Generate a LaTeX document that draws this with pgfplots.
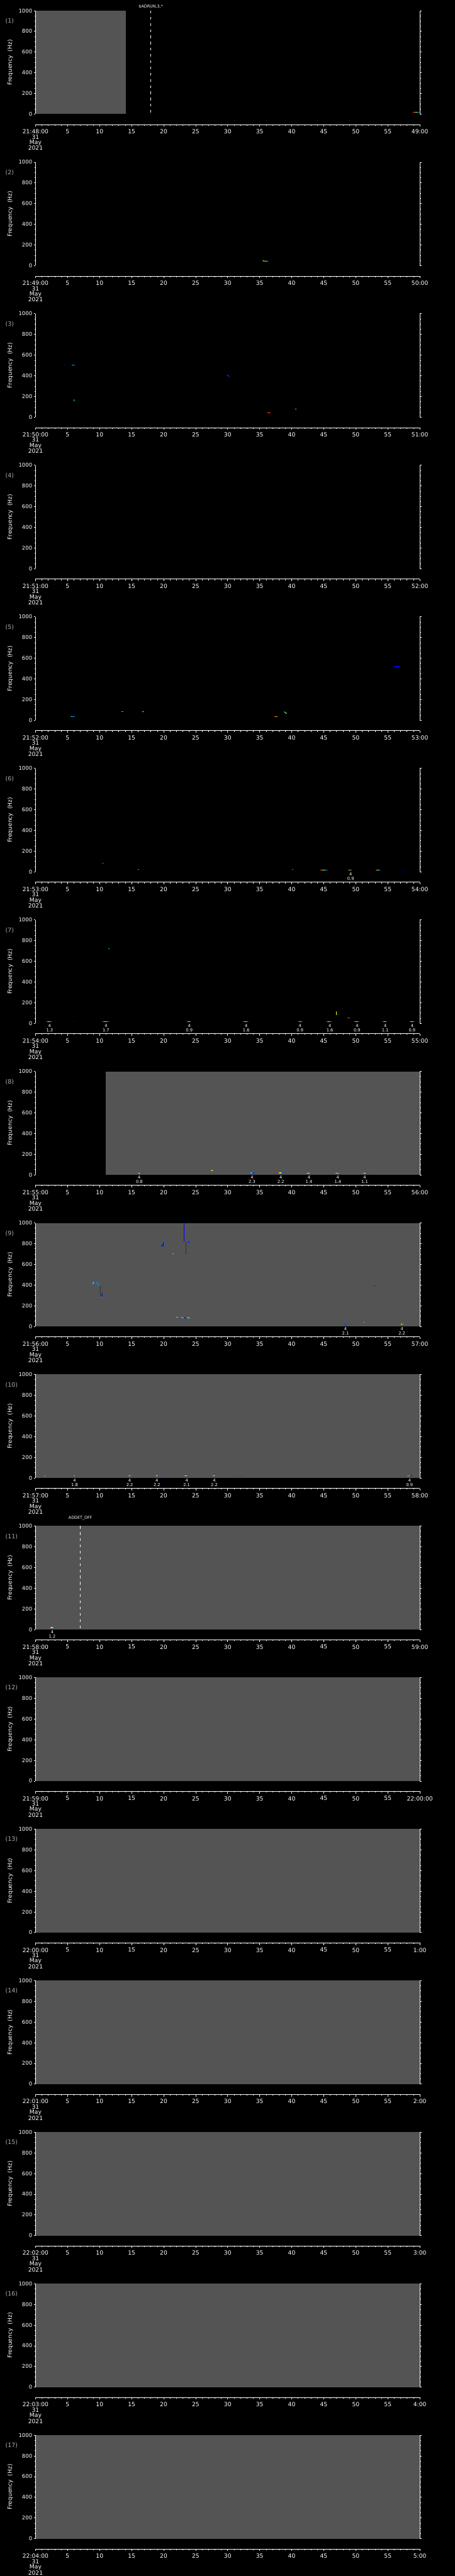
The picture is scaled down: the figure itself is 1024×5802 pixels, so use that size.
\documentclass[border=0pt]{standalone}
\usepackage{pgfplots}
\pgfplotsset{compat=1.18}
\usepackage{fontspec}
\setmainfont{DejaVu Sans}
\definecolor{pgray}{RGB}{84,84,84}
\definecolor{lgray}{RGB}{170,170,170}
\pgfplotsset{
  colormap={traces}{rgb255=(0,0,255) rgb255=(0,255,255) rgb255=(0,255,0) rgb255=(255,255,0) rgb255=(255,0,0)},
  panel/.style={anchor=north west, width=865pt, height=233pt, scale only axis,
    xmin=0, xmax=60, ymin=0, ymax=1000,
    axis x line=none, axis y line=box, xtick=\empty,
    ytick={0,200,400,600,800,1000}, yticklabels={0,200,400,600,800,1000},
    minor y tick num=3, tick align=outside, major tick length=4pt, minor tick length=2pt,
    axis line style={white, line width=1.1pt}, tick style={white, line width=1pt},
    yticklabel style={text=white, font=\fontsize{12}{12}\selectfont},
    ylabel={Frequency\ \ (Hz)},
    every axis y label/.style={at={(rel axis cs:0,0.5)}, xshift=-57pt, rotate=90, anchor=center, text=white, font=\fontsize{13}{13}\selectfont},
    colormap name=traces, point meta min=0, point meta max=1, clip=false, axis on top},
  timeax/.style={anchor=south west, width=865pt, height=1pt, scale only axis,
    xmin=0, xmax=60, ymin=0, ymax=1, axis x line=bottom, axis y line=none, ytick=\empty,
    axis line style={white, line width=1.1pt, -}, xtick={0,5,...,60}, minor x tick num=4,
    tick align=outside, major tick length=4.5pt, minor tick length=2.5pt, tick style={white, line width=1pt},
    xticklabel style={text=white, font=\fontsize{13}{12}\selectfont, align=center, yshift=-3pt}},
  trace/.style={mesh, point meta=explicit, line width=1.6pt, no markers, forget plot},
  bg/.style={fill=pgray, draw=none, forget plot},
  dashline/.style={white, line width=1.3pt, dash pattern=on 6pt off 8pt, forget plot},
}
\tikzset{labsty/.style={anchor=north, yshift=-2.5pt, inner sep=0pt, align=center, text=white, font=\fontsize{9.5}{9.5}\selectfont},
  toplab/.style={anchor=center, inner sep=0pt, text=white, font=\fontsize{9}{9}\selectfont}}
\newcommand{\timeaxis}[3]{\begin{axis}[timeax, at={(80pt,-#1pt)}, xticklabels={{#2\\31\\May\\2021},5,10,15,20,25,30,35,40,45,50,55,#3}]\end{axis}}
\newcommand{\plabel}[1]{\node[anchor=west, text=lgray, inner sep=0pt, font=\fontsize{13.5}{13.5}\selectfont] at (rel axis cs:0,1) [xshift=-68pt, yshift=-23.5pt] {(#1)};}
\newcommand{\lab}[2]{\node[labsty] at (axis cs:#1,0) {4\\#2};}
\newcommand{\rb}[6]{\addplot[trace] coordinates {(#1,#6) [1] (#2,#6) [0.85] (#3,#6) [0.6] (#4,#6) [0.15] (#5,#6) [0]};}
\begin{document}
\begin{tikzpicture}
\useasboundingbox (0,0) rectangle (1024pt,-5802pt);
\fill[black] (0,0) rectangle (1024pt,-5802pt);
% ---------- 1
\begin{axis}[panel, at={(80pt,-24pt)}]
\addplot[bg] coordinates {(0,1000) (14.08,1000)} \closedcycle;
\addplot[dashline] coordinates {(18,1000) (18,0)};
\node[toplab] at (axis cs:18,1000) [yshift=8.5pt] {\$ADRUN,3,*};
\addplot[trace] coordinates {(58.87,20) [1] (59.25,20) [0.85] (59.45,20) [0.6] (59.65,20) [0.3] (59.85,20) [0] (60,20) [0]};
\plabel{1}
\end{axis}
\timeaxis{280.5}{21:48:00}{49:00}
% ---------- 2
\begin{axis}[panel, at={(80pt,-365.3pt)}]
\addplot[trace] coordinates {(35.45,47) [1] (35.7,45) [0.6] (36.0,42) [0.25] (36.3,44) [0.1]};
\plabel{2}
\end{axis}
\timeaxis{621.8}{21:49:00}{50:00}
% ---------- 3
\begin{axis}[panel, at={(80pt,-706.6pt)}]
\addplot[trace] coordinates {(4.55,505) [0] (4.7,505) [0]};
\addplot[trace] coordinates {(5.7,505) [0.1] (6.1,505) [0.2]};
\addplot[trace] coordinates {(6.0,175) [0] (6.0,165) [0.4] (6.05,155) [0.5]};
\addplot[trace] coordinates {(29.9,408) [0.1] (30.1,400) [0.05] (30.3,386) [0]};
\addplot[trace] coordinates {(36.2,47) [0.85] (36.4,44) [1] (36.7,44) [0.9]};
\addplot[trace] coordinates {(40.55,76) [0.25] (40.7,76) [0.25]};
\plabel{3}
\end{axis}
\timeaxis{963.1}{21:50:00}{51:00}
% ---------- 4
\begin{axis}[panel, at={(80pt,-1047.9pt)}]
\plabel{4}
\end{axis}
\timeaxis{1304.4}{21:51:00}{52:00}
% ---------- 5
\begin{axis}[panel, at={(80pt,-1389.2pt)}]
\addplot[trace] coordinates {(5.5,35) [0.6] (5.7,37) [0.3] (6.1,37) [0]};
\addplot[trace] coordinates {(13.4,86) [1] (13.7,86) [0.75]};
\addplot[trace] coordinates {(16.65,82) [0.75] (16.9,85) [0.4]};
\addplot[trace] coordinates {(37.3,37) [1] (37.55,37) [0.75] (37.8,37) [0.9]};
\addplot[trace] coordinates {(38.8,82) [0.3] (39.0,75) [0.5] (39.2,62) [0.75]};
\addplot[trace] coordinates {(56.0,518) [0] (56.8,518) [0]};
\plabel{5}
\end{axis}
\timeaxis{1645.7}{21:52:00}{53:00}
% ---------- 6
\begin{axis}[panel, at={(80pt,-1730.5pt)}]
\addplot[trace] coordinates {(10.45,83) [0.75] (10.6,83) [0.75]};
\addplot[trace] coordinates {(16.0,20) [0.9] (16.15,20) [0.9]};
\addplot[trace] coordinates {(40.0,20) [0.1] (40.2,20) [0.2]};
\rb{44.45}{44.74}{45.03}{45.31}{45.6}{16}
\rb{48.8}{48.95}{49.1}{49.25}{49.4}{16}
\rb{53.1}{53.3}{53.5}{53.7}{53.9}{17}
\addplot[trace] coordinates {(57.25,16) [0] (57.4,16) [0]};
\lab{49.2}{0.9}
\plabel{6}
\end{axis}
\timeaxis{1987}{21:53:00}{54:00}
% ---------- 7
\begin{axis}[panel, at={(80pt,-2071.8pt)}]
\rb{1.7}{1.925}{2.15}{2.375}{2.6}{16}
\addplot[trace] coordinates {(5.95,16) [0] (6.1,16) [0]};
\rb{10.5}{10.75}{11.0}{11.25}{11.5}{16}
\rb{23.6}{23.79}{23.98}{24.16}{24.35}{16}
\rb{32.4}{32.63}{32.85}{33.08}{33.3}{16}
\rb{41.0}{41.18}{41.35}{41.53}{41.7}{16}
\rb{45.4}{45.63}{45.85}{46.08}{46.3}{16}
\rb{49.8}{50.0}{50.2}{50.4}{50.6}{16}
\rb{54.2}{54.38}{54.55}{54.73}{54.9}{16}
\rb{58.45}{58.64}{58.83}{59.01}{59.2}{16}
\addplot[trace] coordinates {(46.95,118) [0] (46.95,110) [0.75] (46.95,82) [0.75]};
\addplot[trace] coordinates {(48.7,50) [1] (49.1,50) [0.9]};
\addplot[trace] coordinates {(11.35,720) [0.2] (11.5,720) [0.2]};
\lab{2.2}{1.3}\lab{11.0}{1.7}\lab{24.0}{0.9}\lab{32.9}{1.6}\lab{41.3}{0.9}
\lab{45.95}{1.6}\lab{50.2}{0.9}\lab{54.6}{1.1}\lab{58.8}{0.9}
\plabel{7}
\end{axis}
\timeaxis{2328.3}{21:54:00}{55:00}
% ---------- 8
\begin{axis}[panel, at={(80pt,-2413.1pt)}]
\addplot[bg] coordinates {(10.94,1000) (60,1000)} \closedcycle;
\rb{15.9}{16.06}{16.23}{16.39}{16.55}{14}
\addplot[trace] coordinates {(27.4,45) [0.75] (27.6,40) [0.7] (27.8,40) [0.6]};
\addplot[trace] coordinates {(33.6,19) [0.3] (33.85,19) [0.1] (34.1,19) [0]};
\rb{37.9}{38.1}{38.3}{38.5}{38.7}{19}
\rb{42.2}{42.43}{42.65}{42.88}{43.1}{14}
\rb{46.7}{46.93}{47.15}{47.38}{47.6}{14}
\rb{51.0}{51.23}{51.45}{51.68}{51.9}{14}
\lab{16.2}{0.8}\lab{33.8}{2.3}\lab{38.3}{2.2}\lab{42.7}{1.4}\lab{47.2}{1.4}\lab{51.4}{1.1}
\plabel{8}
\end{axis}
\timeaxis{2669.6}{21:55:00}{56:00}
% ---------- 9
\begin{axis}[panel, at={(80pt,-2754.4pt)}]
\addplot[bg] coordinates {(0,1000) (60,1000)} \closedcycle;
\addplot[trace] coordinates {(8.95,410) [0.4] (9.1,430) [0.1] (9.55,430) [0.1] (9.7,410) [0.2] (9.95,395) [0.1]};
\addplot[black!80, line width=0.6pt, forget plot] coordinates {(10.05,395) (10.05,285)};
\addplot[trace] coordinates {(10.05,285) [0.3] (10.35,285) [0] (10.4,320) [0]};
\addplot[trace] coordinates {(19.65,785) [0] (19.9,775) [0] (20.0,815) [0] (20.25,815) [0.2]};
\addplot[trace] coordinates {(21.4,700) [0.25] (21.55,700) [0.25]};
\addplot[trace, line width=1.3pt] coordinates {(23.2,1000) [0] (23.2,818) [0]};
\addplot[black!80, line width=0.6pt, forget plot] coordinates {(23.45,818) (23.45,700)};
\addplot[trace] coordinates {(23.4,700) [0] (23.55,700) [0]};
\addplot[trace] coordinates {(23.7,815) [0.1] (24.1,815) [0]};
\addplot[trace] coordinates {(29.1,825) [0.2] (29.3,820) [0]};
\addplot[trace] coordinates {(21.95,90) [0.3] (22.3,90) [0.3]};
\addplot[trace] coordinates {(22.75,86) [0.5] (23.1,84) [0] (23.6,84) [0] (24.1,82) [0.6]};
\addplot[trace] coordinates {(48.2,17) [0] (48.6,17) [0.1]};
\addplot[trace] coordinates {(51.1,38) [1] (51.3,38) [0]};
\addplot[trace] coordinates {(52.85,390) [0] (53.0,390) [0]};
\rb{56.9}{57.06}{57.23}{57.39}{57.55}{22}
\lab{48.4}{2.1}\lab{57.2}{2.2}
\plabel{9}
\end{axis}
\timeaxis{3010.9}{21:56:00}{57:00}
% ---------- 10
\begin{axis}[panel, at={(80pt,-3095.7pt)}]
\addplot[bg] coordinates {(0,1000) (60,1000)} \closedcycle;
\addplot[trace] coordinates {(1.35,23) [0.75] (1.55,23) [0.2] (1.7,23) [0]};
\addplot[trace] coordinates {(5.9,19) [0.6] (6.1,19) [0.2] (6.3,19) [0]};
\rb{14.4}{14.55}{14.7}{14.85}{15.0}{23}
\rb{18.7}{18.85}{19.0}{19.15}{19.3}{23}
\addplot[trace] coordinates {(19.8,15) [0] (20.0,15) [0.2]};
\rb{23.1}{23.3}{23.5}{23.7}{23.9}{23}
\rb{27.6}{27.76}{27.93}{28.09}{28.25}{23}
\addplot[trace] coordinates {(31.9,23) [0] (32.0,23) [0]};
\addplot[trace] coordinates {(58.0,19) [0.6] (58.3,19) [0.4] (58.5,19) [0] (58.8,19) [0]};
\lab{6.1}{1.8}\lab{14.7}{2.2}\lab{18.95}{2.2}\lab{23.6}{2.1}\lab{27.9}{2.2}\lab{58.4}{0.9}
\plabel{10}
\end{axis}
\timeaxis{3352.2}{21:57:00}{58:00}
% ---------- 11
\begin{axis}[panel, at={(80pt,-3437pt)}]
\addplot[bg] coordinates {(0,1000) (60,1000)} \closedcycle;
\addplot[dashline] coordinates {(7,1000) (7,0)};
\node[toplab] at (axis cs:7,1000) [yshift=17.7pt] {ADDET\_OFF};
\rb{2.2}{2.4}{2.6}{2.8}{3.0}{18}
\lab{2.6}{1.2}
\plabel{11}
\end{axis}
\timeaxis{3693.5}{21:58:00}{59:00}
% ---------- 12
\begin{axis}[panel, at={(80pt,-3778.3pt)}]
\addplot[bg] coordinates {(0,1000) (60,1000)} \closedcycle;
\plabel{12}
\end{axis}
\timeaxis{4034.8}{21:59:00}{22:00:00}
% ---------- 13
\begin{axis}[panel, at={(80pt,-4119.6pt)}]
\addplot[bg] coordinates {(0,1000) (60,1000)} \closedcycle;
\plabel{13}
\end{axis}
\timeaxis{4376.1}{22:00:00}{1:00}
% ---------- 14
\begin{axis}[panel, at={(80pt,-4460.9pt)}]
\addplot[bg] coordinates {(0,1000) (60,1000)} \closedcycle;
\plabel{14}
\end{axis}
\timeaxis{4717.4}{22:01:00}{2:00}
% ---------- 15
\begin{axis}[panel, at={(80pt,-4802.2pt)}]
\addplot[bg] coordinates {(0,1000) (60,1000)} \closedcycle;
\plabel{15}
\end{axis}
\timeaxis{5058.7}{22:02:00}{3:00}
% ---------- 16
\begin{axis}[panel, at={(80pt,-5143.5pt)}]
\addplot[bg] coordinates {(0,1000) (60,1000)} \closedcycle;
\plabel{16}
\end{axis}
\timeaxis{5400}{22:03:00}{4:00}
% ---------- 17
\begin{axis}[panel, at={(80pt,-5484.8pt)}]
\addplot[bg] coordinates {(0,1000) (60,1000)} \closedcycle;
\plabel{17}
\end{axis}
\timeaxis{5741.3}{22:04:00}{5:00}
\end{tikzpicture}
\end{document}
